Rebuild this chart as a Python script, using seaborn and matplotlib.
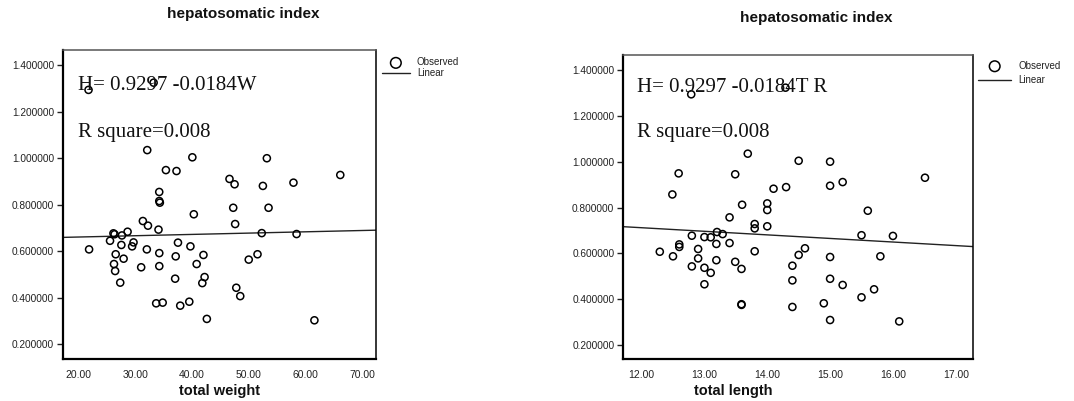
import numpy as np
import pandas as pd
import matplotlib
matplotlib.use("Agg")
import matplotlib.pyplot as plt
import seaborn as sns

# ---------------- data ----------------
weight = [21.7, 33.2, 32.07, 40.04, 53.2, 35.37, 37.24, 66.17, 46.6, 47.5,
          52.5, 57.9, 34.19, 34.2, 34.3, 47.26, 53.5, 40.3, 31.3, 47.6,
          32.2, 34.06, 28.6, 26.1, 26.3, 27.6, 52.3, 58.45, 25.5, 29.65,
          37.5, 27.5, 29.4, 39.7, 21.8, 32.0, 34.2, 26.5, 51.55, 42.0,
          37.1, 27.9, 50.0, 26.2, 40.8, 34.2, 31.0, 26.4, 42.2, 37.0,
          27.3, 41.8, 47.8, 48.5, 33.65, 34.8, 39.5, 37.9, 42.6, 61.6]
hsi_w = [1.293, 1.324, 1.034, 1.003, 0.999, 0.948, 0.944, 0.927, 0.910, 0.887,
         0.880, 0.894, 0.854, 0.815, 0.808, 0.786, 0.786, 0.758, 0.729, 0.716,
         0.709, 0.692, 0.683, 0.676, 0.672, 0.667, 0.677, 0.673, 0.644, 0.637,
         0.636, 0.626, 0.620, 0.620, 0.607, 0.607, 0.591, 0.586, 0.586, 0.583,
         0.577, 0.567, 0.563, 0.544, 0.544, 0.535, 0.530, 0.514, 0.488, 0.481,
         0.464, 0.462, 0.442, 0.406, 0.375, 0.378, 0.382, 0.365, 0.308, 0.302]

length = [12.79, 14.29, 13.69, 14.50, 15.0, 12.59, 13.49, 16.51, 15.2, 15.0,
          14.30, 14.10, 12.49, 14.0, 13.6, 14.0, 15.6, 13.40, 13.80, 14.0,
          13.80, 13.2, 13.29, 15.5, 12.8, 16.0, 13.0, 13.1, 13.40, 13.19,
          12.6, 12.6, 14.6, 12.9, 13.8, 12.29, 14.5, 12.5, 15.8, 15.0,
          12.9, 13.19, 13.49, 14.4, 12.8, 13.0, 13.59, 13.10, 15.0, 14.4,
          13.0, 15.2, 15.7, 15.5, 14.9, 13.59, 13.59, 14.4, 15.0, 16.1]
hsi_l = [1.294, 1.323, 1.035, 1.004, 1.000, 0.949, 0.945, 0.930, 0.911, 0.895,
         0.889, 0.882, 0.857, 0.818, 0.812, 0.789, 0.786, 0.757, 0.728, 0.718,
         0.709, 0.693, 0.684, 0.679, 0.677, 0.676, 0.671, 0.670, 0.645, 0.641,
         0.639, 0.628, 0.622, 0.619, 0.609, 0.607, 0.593, 0.587, 0.587, 0.584,
         0.578, 0.570, 0.563, 0.546, 0.543, 0.537, 0.532, 0.515, 0.489, 0.482,
         0.465, 0.462, 0.443, 0.408, 0.382, 0.378, 0.375, 0.366, 0.309, 0.303]

# linear fit lines (intercept, slope) as drawn in the original
fit_w = (0.649, 0.00056)
fit_l = (0.899, -0.0156)

title = "hepatosomatic index"
eq_w = "H= 0.9297 -0.0184W"
eq_l = "H= 0.9297 -0.0184T R"
rsq = "R square=0.008"
xlab_w = "total weight"
xlab_l = "total length"
yticks = [0.2, 0.4, 0.6, 0.8, 1.0, 1.2, 1.4]
xticks_w = [20, 30, 40, 50, 60, 70]
xticks_l = [12, 13, 14, 15, 16, 17]

# ---------------- style ----------------
sns.set_style("white")
plt.rcParams["font.family"] = ["Liberation Sans", "DejaVu Sans"]

fig = plt.figure(figsize=(10.74, 4.01), dpi=100)
ax1 = fig.add_axes([0.0587, 0.1047, 0.2915, 0.7706])
ax2 = fig.add_axes([0.5804, 0.1040, 0.3259, 0.7588])


def panel(ax, x, y, fit, xlim, ylim, xticks, eq, xlab, labx, eqpos, legpos,
          handlelen, labsp):
    df = pd.DataFrame({"x": x, "y": y})
    sns.scatterplot(data=df, x="x", y="y", ax=ax, marker="o", s=26,
                    edgecolor="black", linewidth=1.1, label="Observed",
                    zorder=3)
    ax.collections[-1].set_facecolor("none")
    lx = np.array(xlim)
    ly = fit[0] + fit[1] * lx
    sns.lineplot(x=lx, y=ly, ax=ax, color="#222222", linewidth=1.0,
                 label="Linear", zorder=2)
    ax.set_xlim(*xlim)
    ax.set_ylim(*ylim)
    ax.set_yticks(yticks)
    ax.set_yticklabels([f"{v:.6f}" for v in yticks])
    ax.set_xticks(xticks)
    ax.set_xticklabels([f"{v:.2f}" for v in xticks])
    ax.tick_params(axis="y", left=True, length=4, width=1, pad=2.5,
                   labelsize=7.3, colors="#222222")
    ax.tick_params(axis="x", bottom=False, length=0, pad=8,
                   labelsize=7.5, colors="#222222")
    for s in ax.spines.values():
        s.set_color("black")
        s.set_linewidth(1.1)
        s.set_visible(True)
    ax.spines["left"].set_linewidth(1.6)
    ax.spines["bottom"].set_linewidth(1.6)
    ax.spines["top"].set_color("#555555")
    ax.set_ylabel("")
    ax.set_xlabel(xlab, fontsize=10.5, fontweight="bold", color="#111111")
    ax.xaxis.set_label_coords(labx, -0.082)
    ax.text(eqpos[0], eqpos[1], eq, transform=ax.transAxes,
            family="Liberation Serif", fontsize=15, va="baseline",
            ha="left", color="#111111", zorder=5)
    ax.text(eqpos[0], eqpos[2], rsq, transform=ax.transAxes,
            family="Liberation Serif", fontsize=15, va="baseline",
            ha="left", color="#111111", zorder=5)
    leg = ax.legend(loc="upper left", bbox_to_anchor=legpos, frameon=False,
                    fontsize=7, borderpad=0, borderaxespad=0,
                    handlelength=handlelen, handletextpad=0.7,
                    labelspacing=labsp, markerscale=1.5)
    for t in leg.get_texts():
        t.set_color("#222222")


panel(ax1, weight, hsi_w, fit_w, (17.2, 72.5), (0.1355, 1.4645), xticks_w,
      eq_w, xlab_w, 0.50, (0.047, 0.8706, 0.7194), (1.018, 0.976), 2.9, 0.1)
panel(ax2, length, hsi_l, fit_l, (11.71, 17.28), (0.1376, 1.4655), xticks_l,
      eq_l, xlab_l, 0.313, (0.038, 0.8794, 0.7315), (1.013, 0.981), 3.45, 0.47)

fig.text(243 / 1074, 1 - 14 / 401, title, ha="center", va="center",
         fontsize=11, fontweight="bold", color="#111111")
fig.text(816 / 1074, 1 - 18 / 401, title, ha="center", va="center",
         fontsize=11, fontweight="bold", color="#111111")

fig.savefig("out.png", dpi=100)
